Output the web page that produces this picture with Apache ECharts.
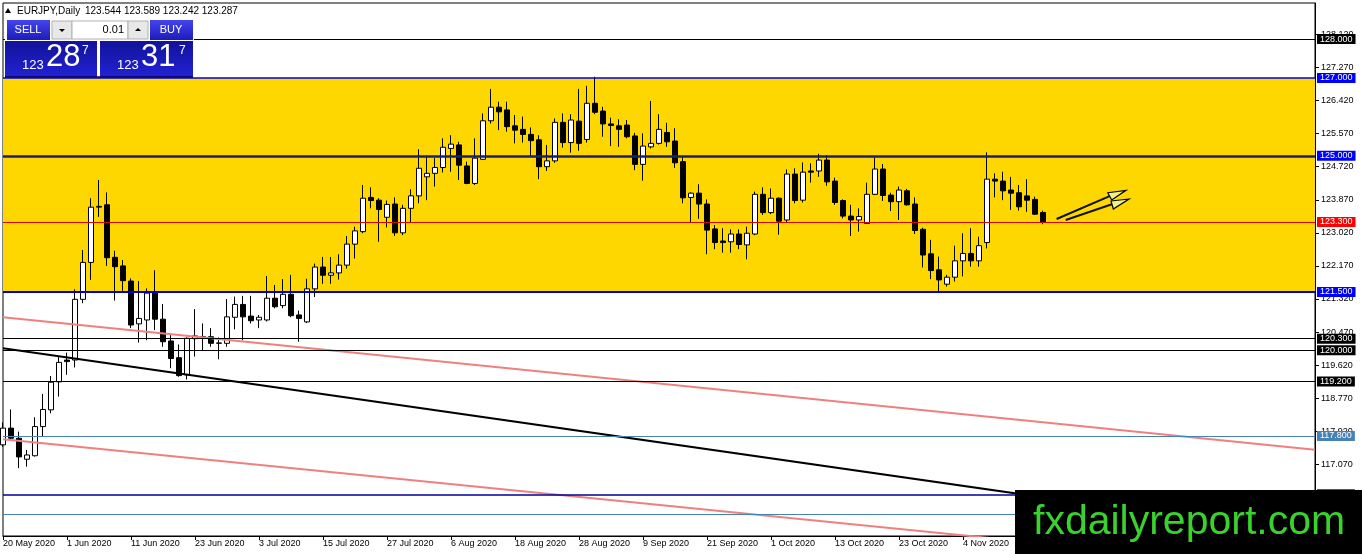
<!DOCTYPE html>
<html><head><meta charset="utf-8">
<script src="https://cdn.jsdelivr.net/npm/echarts@6/dist/echarts.min.js"></script>
<style>html,body{margin:0;padding:0;background:#fff}#c{width:1362px;height:554px}</style>
</head><body><div id="c"></div>
<script>
// ---------- data ----------
const opens = [117.57,118.00,117.74,117.20,117.29,118.04,118.47,119.19,119.75,119.75,
121.31,122.26,123.68,123.74,122.39,122.17,121.78,120.68,120.78,121.49,
120.80,120.24,119.81,119.37,120.30,120.35,120.35,120.18,120.18,120.85,
121.18,120.88,120.78,120.78,121.34,121.15,121.44,120.91,120.73,121.58,
122.14,121.93,121.99,122.19,122.73,123.05,123.93,123.86,123.42,123.76,
123.02,123.65,123.97,124.46,124.55,124.70,125.19,125.28,124.74,124.29,
124.91,125.90,126.25,126.18,125.77,125.68,125.55,125.41,124.72,124.87,
125.86,125.34,125.89,125.42,126.35,126.15,125.82,125.77,125.79,125.51,
124.78,125.23,125.32,125.60,125.38,124.85,123.93,124.04,123.76,123.12,
122.81,122.79,122.99,122.71,122.99,124.01,123.54,123.91,123.35,124.53,
123.86,124.61,124.61,124.89,124.35,123.85,123.45,123.35,123.26,124.01,
124.66,123.99,123.82,124.10,123.76,123.11,122.48,122.07,121.70,121.88,
122.30,122.49,122.30,122.77,124.40,124.35,124.12,124.05,123.97,123.88,
123.544];
const highs = [118.15,118.48,117.91,117.44,118.28,118.88,119.34,119.85,119.94,121.57,
122.58,123.91,124.38,124.06,122.56,122.32,121.85,121.78,121.59,122.06,
121.19,120.39,120.15,120.33,121.06,120.69,120.57,120.33,121.32,121.38,
121.40,121.40,120.91,121.91,121.68,121.83,121.94,121.02,121.84,122.23,
122.40,122.40,122.47,122.94,123.18,124.25,124.19,123.91,123.85,123.93,
123.74,124.14,125.17,125.00,124.94,125.45,125.53,125.36,124.85,125.45,
126.09,126.72,126.39,126.39,126.05,126.01,125.73,125.53,125.28,125.96,
126.09,126.07,126.72,126.80,127.03,126.26,125.98,125.94,125.92,125.59,
125.58,126.41,126.07,125.85,125.71,124.98,124.06,124.27,123.88,123.22,
123.14,123.11,123.11,123.18,124.08,124.19,124.16,123.93,124.65,124.68,
124.83,124.81,125.05,125.02,124.44,123.88,123.74,123.65,124.31,124.96,
124.79,124.05,124.21,124.15,123.93,123.15,122.84,122.41,121.94,122.69,
123.01,123.14,122.92,125.09,124.55,124.59,124.46,124.25,124.40,123.95,
123.589];
const lows = [117.52,117.68,116.97,117.01,117.27,117.78,118.38,118.81,119.37,119.56,
121.21,121.81,123.43,122.17,121.28,121.53,120.57,120.20,120.26,120.52,
120.09,119.54,119.32,119.25,119.84,119.99,120.09,119.77,120.09,120.54,
120.26,120.69,120.57,120.74,121.08,121.08,120.85,120.22,120.70,121.37,
121.71,121.71,121.82,122.10,122.36,123.01,123.65,122.79,123.16,122.94,
122.96,123.28,123.78,123.86,124.21,124.57,124.59,124.38,124.27,124.25,
124.89,125.83,125.66,125.62,125.32,125.34,125.00,124.40,124.61,124.82,
125.21,125.08,125.13,125.34,126.07,125.49,125.25,125.23,125.45,124.63,
124.36,125.19,125.29,125.23,124.69,123.78,123.29,123.38,122.47,122.60,
122.51,122.51,122.60,122.34,122.96,123.48,123.50,122.97,123.30,123.78,
123.80,124.31,124.46,124.23,123.74,123.39,122.94,123.05,123.25,123.99,
123.84,123.58,123.35,123.72,122.99,122.13,121.83,121.51,121.64,121.77,
121.90,122.15,122.15,122.62,123.93,123.86,123.61,123.59,123.56,123.48,
123.242];
const closes = [118.00,117.74,117.26,117.31,118.04,118.48,119.18,119.69,119.71,121.31,
122.26,123.68,123.70,122.38,122.15,121.79,120.65,120.82,121.47,120.80,
120.22,119.79,119.35,120.31,120.37,120.31,120.18,120.19,120.86,121.18,
120.86,120.76,120.85,121.34,121.12,121.44,120.89,120.82,121.58,122.14,
121.93,121.99,122.19,122.73,123.07,123.91,123.85,123.62,123.75,123.02,
123.65,123.97,124.68,124.55,124.70,125.22,125.30,124.76,124.29,124.94,
125.90,126.25,126.13,125.75,125.66,125.55,125.39,124.72,124.87,125.86,
125.34,125.92,125.32,126.35,126.12,125.82,125.78,125.68,125.49,124.78,
125.25,125.32,125.68,125.36,124.82,123.92,124.04,123.76,123.09,122.77,
122.77,122.99,122.72,123.01,124.01,123.54,123.91,123.32,124.53,123.85,
124.58,124.58,124.89,124.33,123.80,123.45,123.35,123.44,124.01,124.66,
123.98,123.82,124.12,123.74,123.08,122.45,122.05,121.81,121.88,122.30,
122.49,122.30,122.69,124.40,124.35,124.10,124.04,123.69,123.86,123.50,
123.287];
const firstDate = '2020-05-20';
const slotCount = 165;
const yTickValues = [115.37,116.22,117.07,117.92,118.77,119.62,120.47,121.32,122.17,123.02,123.87,124.72,125.57,126.42,127.27,128.12];
const levelValues = [128.000,127.000,125.000,123.300,121.500,120.300,120.000,119.200,117.800,116.300,115.790];
const zoneBounds = [121.5, 127.0];
const trendUpperPink = [[0,120.848],[164,117.442]];
const trendLowerPink = [[0,117.712],[164,114.339]];
const trendBlack = [[0,120.051],[164,115.218]];
const arrowShaft1 = [[131.7,123.375],[138.4,123.97]];
const arrowShaft2 = [[132.84,123.35],[138.7,123.76]];
const arrowHeads = [
  [[138.09,124.051],[140.375,124.113],[138.59,123.864]],
  [[138.5,123.838],[140.75,123.889],[138.79,123.632]]
];
const headerSymbol = 'EURJPY,Daily';
const headerValues = '123.544 123.589 123.242 123.287';

// ---------- styles ----------
const levelStyle = {
  '128.000':{c:'#000000',w:1,bg:'#000000'},
  '127.000':{c:'#0000dd',w:1.5,bg:'#0000ff'},
  '125.000':{c:'#1e1e6e',w:2.5,bg:'#0000ff'},
  '123.300':{c:'#e00000',w:1,bg:'#ff0000'},
  '121.500':{c:'#0000c8',w:2,bg:'#0000ff'},
  '120.300':{c:'#000000',w:1,bg:'#000000'},
  '120.000':{c:'#000000',w:1,bg:'#000000'},
  '119.200':{c:'#000000',w:1,bg:'#000000'},
  '117.800':{c:'#4682b4',w:1,bg:'#4682b4'},
  '116.300':{c:'#00009a',w:1.5,bg:'#0000ff'},
  '115.790':{c:'#4682b4',w:1,bg:'#4682b4'}
};
const MONTHS = ['Jan','Feb','Mar','Apr','May','Jun','Jul','Aug','Sep','Oct','Nov','Dec'];
const categories = [];
(function(){
  const d = new Date(firstDate + 'T12:00:00Z');
  while (categories.length < slotCount) {
    const wd = d.getUTCDay();
    if (wd !== 0 && wd !== 6) categories.push(d.getUTCDate() + ' ' + MONTHS[d.getUTCMonth()] + ' ' + d.getUTCFullYear());
    d.setUTCDate(d.getUTCDate() + 1);
  }
})();
const candleData = opens.map((o,i)=>[o, closes[i], lows[i], highs[i]]);
const FONT = '"Liberation Sans", Arial, sans-serif';

const chart = echarts.init(document.getElementById('c'));
const tickInt = (i)=> i % 8 === 0;
chart.setOption({
  animation:false,
  backgroundColor:'#fff',
  grid:{left:3,right:47,top:3,bottom:18,show:true,borderColor:'#000',borderWidth:1,backgroundColor:'transparent'},
  xAxis:[{
    type:'category', data:categories, boundaryGap:false,
    axisLine:{lineStyle:{color:'#000'}},
    axisTick:{interval:tickInt, length:4, lineStyle:{color:'#000'}},
    axisLabel:{interval:tickInt, align:'left', margin:3, fontSize:9, fontFamily:FONT, color:'#000'},
    splitLine:{show:false}
  },{
    type:'value', min:0, max:slotCount-1, show:false,
    axisLine:{show:false}, axisTick:{show:false}, axisLabel:{show:false}, splitLine:{show:false}
  }],
  yAxis:[{
    type:'value', position:'right', min:115.227, max:128.928,
    axisLine:{show:true, onZero:false, lineStyle:{color:'#000'}},
    axisTick:{show:true, length:4, customValues:yTickValues, lineStyle:{color:'#000'}},
    axisLabel:{customValues:yTickValues, margin:6, fontSize:9, fontFamily:FONT, color:'#000', formatter:(v)=>v.toFixed(3)},
    splitLine:{show:false}
  }],
  series:[
    {type:'line', xAxisIndex:1, z:1, silent:true, symbol:'none', data:[[0,zoneBounds[0]],[slotCount-1,zoneBounds[0]]], lineStyle:{opacity:0},
     markArea:{silent:true, itemStyle:{color:'#ffd700'}, data:[[{yAxis:zoneBounds[1]},{yAxis:zoneBounds[0]}]]}},
    {type:'candlestick', z:2, data:candleData, barWidth:5,
     itemStyle:{color:'#ffffff', color0:'#000000', borderColor:'#000000', borderColor0:'#000000', borderWidth:1}},
    {type:'line', xAxisIndex:1, z:3, silent:true, symbol:'none', data:[[0,zoneBounds[0]],[slotCount-1,zoneBounds[0]]], lineStyle:{opacity:0},
     markLine:{silent:true, symbol:'none', animation:false,
       data: levelValues.map(v=>{ const s = levelStyle[v.toFixed(3)]; return {
         yAxis:v, lineStyle:{color:s.c, width:s.w, type:'solid'},
         label:{show:true, position:'end', distance:2, formatter:v.toFixed(3), backgroundColor:s.bg, color:'#fff', padding:[1,3,0,3], fontSize:9, fontFamily:FONT}
       };})
     }},
    {type:'line', xAxisIndex:1, z:4, silent:true, symbol:'none', data:trendUpperPink, lineStyle:{color:'#f08080', width:2}},
    {type:'line', xAxisIndex:1, z:4, silent:true, symbol:'none', data:trendLowerPink, lineStyle:{color:'#f08080', width:2}},
    {type:'line', xAxisIndex:1, z:4, silent:true, symbol:'none', data:trendBlack, lineStyle:{color:'#000000', width:2}},
    {type:'line', xAxisIndex:1, z:5, silent:true, symbol:'none', data:arrowShaft1, lineStyle:{color:'#111', width:2}},
    {type:'line', xAxisIndex:1, z:5, silent:true, symbol:'none', data:arrowShaft2, lineStyle:{color:'#111', width:2}},
    {type:'custom', xAxisIndex:1, z:6, silent:true, data:arrowHeads.map(h=>h[1]),
     renderItem:(params, api)=>{ const pts = arrowHeads[params.dataIndex].map(p=>api.coord(p));
       return {type:'polygon', shape:{points:pts}, style:{fill:'#eef08a', stroke:'#000', lineWidth:1.2}}; }}
  ],
  graphic:[
    {type:'polygon', z:100, shape:{points:[[5,13],[11,13],[8,8]]}, style:{fill:'#000'}},
    {type:'text', z:100, x:17, y:11, style:{text:headerSymbol, font:'10px '+FONT, fill:'#000', verticalAlign:'middle'}},
    {type:'text', z:100, x:85, y:11, style:{text:headerValues, font:'10px '+FONT, fill:'#000', verticalAlign:'middle'}},
    {type:'rect', z:100, shape:{x:5,y:19,width:189,height:58}, style:{fill:'#fff'}},
    {type:'rect', z:101, shape:{x:7,y:20,width:43,height:20}, style:{fill:new echarts.graphic.LinearGradient(0,0,0,1,[{offset:0,color:'#4444ee'},{offset:1,color:'#1c1cbc'}])}},
    {type:'text', z:102, x:28, y:30, style:{text:'SELL', font:'11px '+FONT, fill:'#fff', align:'center', verticalAlign:'middle'}},
    {type:'rect', z:101, shape:{x:52,y:21,width:20,height:18}, style:{fill:'#e8e8e8', stroke:'#b0b0b0'}},
    {type:'polygon', z:102, shape:{points:[[59,29],[65,29],[62,32]]}, style:{fill:'#000'}},
    {type:'rect', z:101, shape:{x:72,y:21,width:56,height:18}, style:{fill:'#fff', stroke:'#b0b0b0'}},
    {type:'text', z:102, x:124, y:30, style:{text:'0.01', font:'11px '+FONT, fill:'#000', align:'right', verticalAlign:'middle'}},
    {type:'rect', z:101, shape:{x:128,y:21,width:20,height:18}, style:{fill:'#e8e8e8', stroke:'#b0b0b0'}},
    {type:'polygon', z:102, shape:{points:[[135,31],[141,31],[138,28]]}, style:{fill:'#000'}},
    {type:'rect', z:101, shape:{x:150,y:20,width:43,height:20}, style:{fill:new echarts.graphic.LinearGradient(0,0,0,1,[{offset:0,color:'#4444ee'},{offset:1,color:'#1c1cbc'}])}},
    {type:'text', z:102, x:171, y:30, style:{text:'BUY', font:'11px '+FONT, fill:'#fff', align:'center', verticalAlign:'middle'}},
    {type:'rect', z:101, shape:{x:5,y:41,width:92,height:36}, style:{fill:new echarts.graphic.LinearGradient(0,0,0,1,[{offset:0,color:'#12129a'},{offset:1,color:'#2222d4'}])}},
    {type:'rect', z:101, shape:{x:100,y:41,width:93,height:36}, style:{fill:new echarts.graphic.LinearGradient(0,0,0,1,[{offset:0,color:'#12129a'},{offset:1,color:'#2222d4'}])}},
    {type:'text', z:102, x:22, y:65, style:{text:'123', font:'13px '+FONT, fill:'#fff', verticalAlign:'middle'}},
    {type:'text', z:102, x:46, y:57, style:{text:'28', font:'31px '+FONT, fill:'#fff', verticalAlign:'middle'}},
    {type:'text', z:102, x:82, y:51, style:{text:'7', font:'12px '+FONT, fill:'#fff', verticalAlign:'middle'}},
    {type:'text', z:102, x:117, y:65, style:{text:'123', font:'13px '+FONT, fill:'#fff', verticalAlign:'middle'}},
    {type:'text', z:102, x:141, y:57, style:{text:'31', font:'31px '+FONT, fill:'#fff', verticalAlign:'middle'}},
    {type:'text', z:102, x:179, y:51, style:{text:'7', font:'12px '+FONT, fill:'#fff', verticalAlign:'middle'}},
    {type:'line', z:102, shape:{x1:5,y1:77,x2:193,y2:77}, style:{stroke:'#000050', lineWidth:1.5}},
    {type:'rect', z:110, shape:{x:1015,y:490,width:347,height:64}, style:{fill:'#000'}},
    {type:'text', z:111, x:1033, y:523, style:{text:'fxdailyreport.com', font:'41px '+FONT, fill:'#3ad22c', verticalAlign:'middle'}}
  ]
});
</script></body></html>
